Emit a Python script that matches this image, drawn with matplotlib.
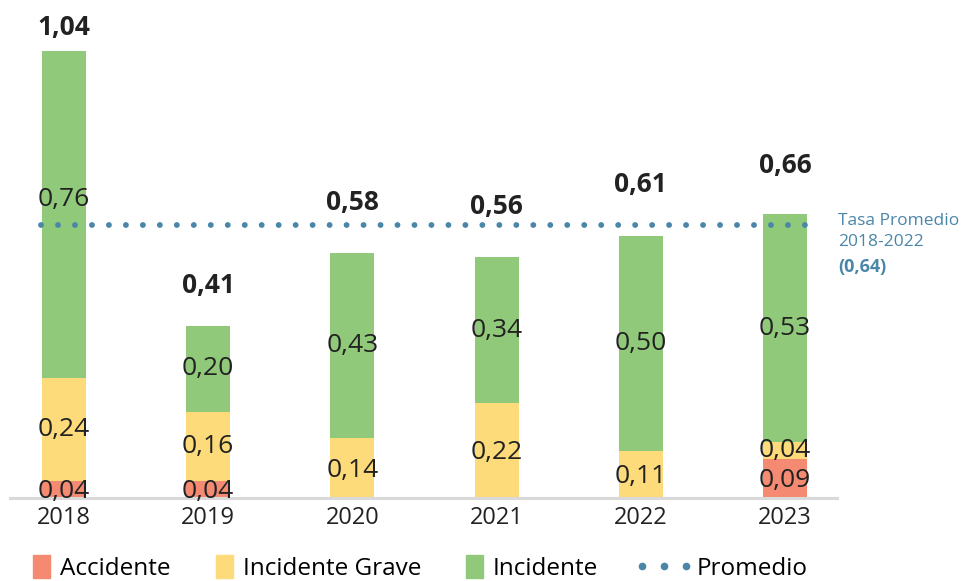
import matplotlib.pyplot as plt
from matplotlib.patches import Patch
from matplotlib.lines import Line2D

years = ['2018', '2019', '2020', '2021', '2022', '2023']
accidente = [0.04, 0.04, 0.0, 0.0, 0.0, 0.09]
inc_grave = [0.24, 0.16, 0.14, 0.22, 0.11, 0.04]
incidente = [0.76, 0.20, 0.43, 0.34, 0.50, 0.53]
totales = ['1,04', '0,41', '0,58', '0,56', '0,61', '0,66']
promedio = 0.635

c_acc = '#f58a72'
c_grave = '#fddb7a'
c_inc = '#90c97a'
c_prom = '#4a86a8'
c_txt = '#222222'
font = 'Open Sans'

fig = plt.figure(figsize=(9.62, 5.81), dpi=100)
ax = fig.add_axes([10/962, 83/581, 827/962, 498/581])
x = list(range(len(years)))
w = 0.305

ax.bar(x, accidente, w, color=c_acc, zorder=2)
bot1 = accidente
ax.bar(x, inc_grave, w, bottom=bot1, color=c_grave, zorder=2)
bot2 = [a + b for a, b in zip(accidente, inc_grave)]
ax.bar(x, incidente, w, bottom=bot2, color=c_inc, zorder=2)

# etiquetas de cada tramo
for i in x:
    for val, b in [(accidente[i], 0), (inc_grave[i], bot1[i]), (incidente[i], bot2[i])]:
        if val <= 0:
            continue
        yc = b + val / 2
        if i == 0 and b == bot2[i]:
            yc += 0.035
        if b == 0:
            yc -= 0.005
        ax.text(i, yc, ('%.2f' % val).replace('.', ','), ha='center', va='center',
                fontsize=19, color=c_txt, family=font, zorder=4)

# totales
offs = [23, 40, 50, 51, 51, 49]
for i in x:
    top = bot2[i] + incidente[i]
    ax.annotate(totales[i], (i, top), xytext=(0, offs[i] * 0.72), textcoords='offset points',
                ha='center', va='center', fontsize=19, fontweight='bold', color=c_txt,
                family=font, zorder=4)

# promedio
ax.plot([-0.16, 5.18], [promedio, promedio], color=c_prom, lw=4.2,
        ls=(0, (0.01, 2.9)), dash_capstyle='round', zorder=3)
fig.text(838/962, 1 - 221/581, 'Tasa Promedio', color=c_prom, fontsize=12.5, family=font,
         va='center', ha='left')
fig.text(838/962, 1 - 242/581, '2018-2022', color=c_prom, fontsize=12.5, family=font,
         va='center', ha='left')
fig.text(838/962, 1 - 267/581, '(0,64)', color=c_prom, fontsize=13, family=font,
         fontweight='bold', va='center', ha='left')

ax.set_xlim(-0.374, 5.36)
ax.set_ylim(0, 1.158)
for s in ['top', 'right', 'left']:
    ax.spines[s].set_visible(False)
ax.spines['bottom'].set_color('#d9d9d9')
ax.spines['bottom'].set_linewidth(2.2)
ax.spines['bottom'].set_zorder(3)
ax.set_yticks([])
ax.set_xticks(x)
ax.set_xticklabels(years, fontsize=17, color=c_txt, family=font)
ax.tick_params(axis='x', length=0, pad=6)

# leyenda: tramos
handles = [Patch(color=c_acc), Patch(color=c_grave), Patch(color=c_inc)]
labels = ['Accidente', 'Incidente Grave', 'Incidente']
fig.legend(handles, labels, loc='lower left', bbox_to_anchor=(0.012, -0.037), ncol=3,
           frameon=False, handlelength=0.7, handleheight=1.1, handletextpad=0.4,
           columnspacing=1.86, prop={'family': font, 'size': 17.5})
# leyenda: promedio
dots = Line2D([], [], ls='none', marker='o', ms=4.5, color=c_prom)
fig.legend([dots], ['Promedio'], loc='lower left', bbox_to_anchor=(0.637, -0.037),
           frameon=False, handlelength=2.4, handletextpad=0.15, numpoints=3,
           prop={'family': font, 'size': 17.5})

fig.savefig('out.png', dpi=100)
